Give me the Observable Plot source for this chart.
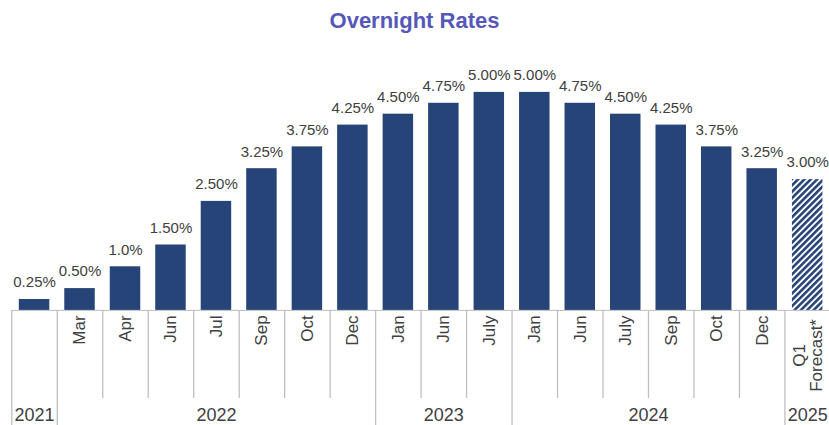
<!DOCTYPE html>
<html>
<head>
<meta charset="utf-8">
<script src="https://cdn.jsdelivr.net/npm/d3@7"></script>
<script src="https://cdn.jsdelivr.net/npm/@observablehq/plot@0.6"></script>
<style>
  html, body { margin: 0; padding: 0; background: #fff; overflow: hidden; }
  #title { height: 40px; line-height: 42px; text-align: center; font-family: "Liberation Sans", Arial, sans-serif; font-weight: bold; font-size: 22px; color: #5558B8; }
</style>
</head>
<body>
<div id="title">Overnight Rates</div>
<div id="chart"></div>
<script>
const categories = ["", "Mar", "Apr", "Jun", "Jul", "Sep", "Oct", "Dec", "Jan", "Jun", "July", "Jan", "Jun", "July", "Sep", "Oct", "Dec", "Q1\nForecast*"];
const rates = [0.25, 0.5, 1.0, 1.5, 2.5, 3.25, 3.75, 4.25, 4.5, 4.75, 5.0, 5.0, 4.75, 4.5, 4.25, 3.75, 3.25, 3.0];
const rateLabels = ["0.25%", "0.50%", "1.0%", "1.50%", "2.50%", "3.25%", "3.75%", "4.25%", "4.50%", "4.75%", "5.00%", "5.00%", "4.75%", "4.50%", "4.25%", "3.75%", "3.25%", "3.00%"];
const isForecast = [false, false, false, false, false, false, false, false, false, false, false, false, false, false, false, false, false, true];
const years = ["2021", "2022", "2023", "2024", "2025"];
const yearStart = [0, 1, 8, 11, 17];
const yearEnd = [1, 8, 11, 17, 18];

const data = rates.map((r, i) => ({i, rate: r, label: rateLabels[i], cat: categories[i], forecast: isForecast[i]}));
const actual = data.filter(d => !d.forecast);
const fc = data.filter(d => d.forecast);
const yearData = years.map((y, k) => ({year: y, start: yearStart[k], end: yearEnd[k]}));
const yearBounds = [...yearStart, 18];
const monthBounds = d3.range(1, 18).filter(b => !yearStart.includes(b));

const yMin = -2.64, yMax = 6.19;
const BLUE = "#264478";
const GRID = "#BFBFBF";
const TXT = "#404040";
const FONT = "'Liberation Sans', Arial, sans-serif";

const chart = Plot.plot({
  width: 829,
  height: 385,
  marginTop: 0, marginBottom: 0, marginLeft: 0, marginRight: 0,
  style: {fontFamily: FONT, background: "white", color: TXT},
  x: {type: "linear", domain: [0, 18], range: [11.3, 829.9], axis: null},
  y: {domain: [yMin, yMax], range: [385, 0], axis: null},
  marks: [
    Plot.ruleY([0], {x1: 0, x2: 18, stroke: GRID, strokeWidth: 1}),
    Plot.ruleX(yearBounds, {x: d => d, y1: 0, y2: yMin, stroke: GRID, strokeWidth: 1.3}),
    Plot.ruleX(monthBounds, {x: d => d, y1: 0, y2: yMin, insetBottom: 27, stroke: GRID, strokeWidth: 1.3}),
    Plot.rectY(actual, {x1: d => d.i, x2: d => d.i + 1, y1: 0, y2: "rate", insetLeft: 7.5, insetRight: 7.5, fill: BLUE}),
    Plot.rectY(fc, {x1: d => d.i, x2: d => d.i + 1, y1: 0, y2: "rate", insetLeft: 7.5, insetRight: 7.5, fill: "url(#hatch)"}),
    Plot.text(data, {x: d => d.i + 0.5, y: "rate", text: "label", dy: -17, lineAnchor: "middle", textAnchor: "middle", fontSize: 15, fill: TXT}),
    Plot.text(actual, {x: d => d.i + 0.5, y: 0, text: "cat", rotate: -90, textAnchor: "end", lineAnchor: "middle", dy: 5, fontSize: 17, fill: TXT}),
    Plot.text(fc, {x: d => d.i + 0.5, y: 0, text: "cat", rotate: -90, textAnchor: "middle", lineAnchor: "middle", dy: 45, fontSize: 17, lineHeight: 1, fill: TXT}),
    Plot.text(yearData, {x: d => (d.start + d.end) / 2, y: 0, text: "year", dy: 104.5, lineAnchor: "middle", textAnchor: "middle", fontSize: 18, fill: TXT})
  ]
});

const ns = "http://www.w3.org/2000/svg";
const defs = document.createElementNS(ns, "defs");
defs.innerHTML = `<pattern id="hatch" patternUnits="userSpaceOnUse" width="4.5" height="4.5" patternTransform="rotate(45)"><rect width="4.5" height="4.5" fill="white"/><rect width="2.6" height="4.5" fill="${BLUE}"/></pattern>`;
chart.insertBefore(defs, chart.firstChild);
document.getElementById("chart").appendChild(chart);
</script>
</body>
</html>
